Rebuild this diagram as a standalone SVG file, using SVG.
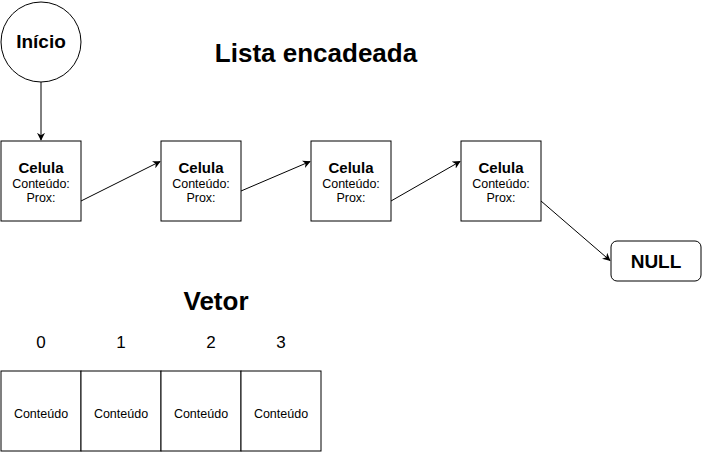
<svg xmlns="http://www.w3.org/2000/svg" width="703" height="453" viewBox="0 0 703 453">
<style>
.s{fill:#fff;stroke:#000;stroke-width:1}
.t{font-family:"Liberation Sans",Arial,sans-serif;fill:#000;text-anchor:middle}
.b{font-weight:bold}
.c{stroke:#000;stroke-width:1;fill:none;marker-end:url(#a)}
</style>
<defs>
<marker id="a" viewBox="0 0 10 10" refX="9" refY="5" markerWidth="8" markerHeight="8" orient="auto" markerUnits="userSpaceOnUse">
<path d="M0,0 L10,5 L0,10 L3,5 z" fill="#000"/>
</marker>
</defs>
<rect width="703" height="453" fill="#fff"/>
<g id="connectors">
<path class="c" d="M41,82 L41,140"/>
<path class="c" d="M81,201 L160,161.5"/>
<path class="c" d="M241,191 L310,161.5"/>
<path class="c" d="M391,201 L460,161.5"/>
<path class="c" d="M541,201 L610,260.5"/>
</g>
<g id="inicio">
<circle class="s" cx="41" cy="42" r="40"/>
<text class="t b" x="41" y="48" font-size="19">Início</text>
</g>
<text class="t b" x="316" y="62" font-size="26">Lista encadeada</text>
<g id="cel1">
<rect class="s" x="1" y="141" width="80" height="80"/>
<text class="t b" x="41" y="172.5" font-size="15">Celula</text>
<text class="t" x="41" y="187.5" font-size="12.5">Conteúdo:</text>
<text class="t" x="41" y="201.5" font-size="12.5">Prox:</text>
</g>
<g id="cel2">
<rect class="s" x="161" y="141" width="80" height="80"/>
<text class="t b" x="201" y="172.5" font-size="15">Celula</text>
<text class="t" x="201" y="187.5" font-size="12.5">Conteúdo:</text>
<text class="t" x="201" y="201.5" font-size="12.5">Prox:</text>
</g>
<g id="cel3">
<rect class="s" x="311" y="141" width="80" height="80"/>
<text class="t b" x="351" y="172.5" font-size="15">Celula</text>
<text class="t" x="351" y="187.5" font-size="12.5">Conteúdo:</text>
<text class="t" x="351" y="201.5" font-size="12.5">Prox:</text>
</g>
<g id="cel4">
<rect class="s" x="461" y="141" width="80" height="80"/>
<text class="t b" x="501" y="172.5" font-size="15">Celula</text>
<text class="t" x="501" y="187.5" font-size="12.5">Conteúdo:</text>
<text class="t" x="501" y="201.5" font-size="12.5">Prox:</text>
</g>
<g id="null">
<rect class="s" x="611" y="241" width="90" height="40" rx="6" ry="6"/>
<text class="t b" x="656" y="268" font-size="19">NULL</text>
</g>
<text class="t b" x="216" y="309.5" font-size="26">Vetor</text>
<g id="indices">
<text class="t" x="41" y="347.5" font-size="17">0</text>
<text class="t" x="121" y="347.5" font-size="17">1</text>
<text class="t" x="211" y="347.5" font-size="17">2</text>
<text class="t" x="281" y="347.5" font-size="17">3</text>
</g>
<g id="v0"><rect class="s" x="1" y="371" width="80" height="80"/><text class="t" x="41" y="417.5" font-size="12.5">Conteúdo</text></g>
<g id="v1"><rect class="s" x="81" y="371" width="80" height="80"/><text class="t" x="121" y="417.5" font-size="12.5">Conteúdo</text></g>
<g id="v2"><rect class="s" x="161" y="371" width="80" height="80"/><text class="t" x="201" y="417.5" font-size="12.5">Conteúdo</text></g>
<g id="v3"><rect class="s" x="241" y="371" width="80" height="80"/><text class="t" x="281" y="417.5" font-size="12.5">Conteúdo</text></g>
</svg>
